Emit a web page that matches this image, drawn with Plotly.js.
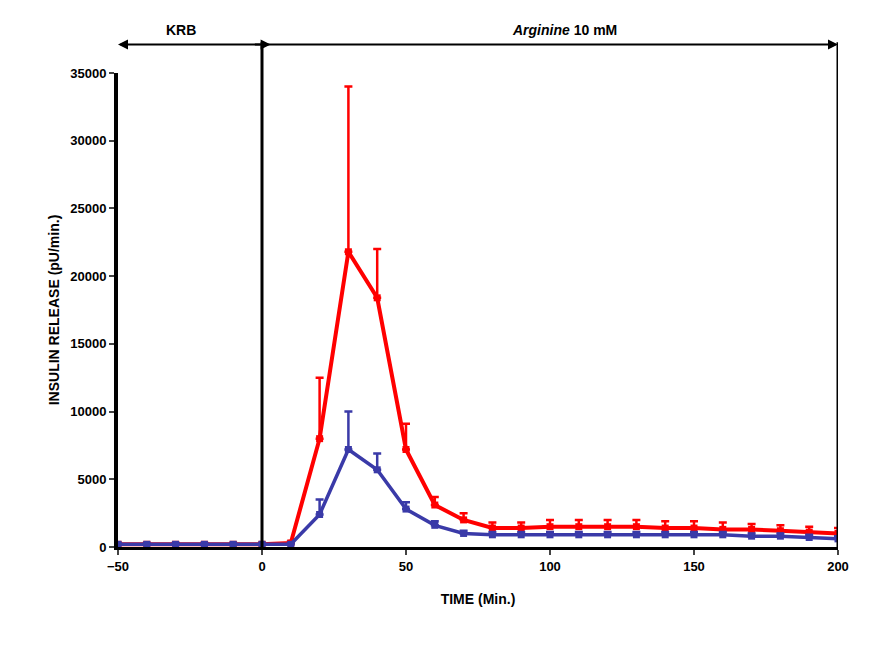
<!DOCTYPE html>
<html><head><meta charset="utf-8">
<script src="https://cdn.plot.ly/plotly-3.0.1.min.js"></script>
<style>body{margin:0;background:#fff}#chart{width:878px;height:646px}</style>
</head><body><div id="chart"></div>
<script>
const time = [-50,-40,-30,-20,-10,0,10,20,30,40,50,60,70,80,90,100,110,120,130,140,150,160,170,180,190,200];
const redVals = [200,200,200,200,200,200,300,8000,21800,18400,7200,3100,2000,1400,1400,1500,1500,1500,1500,1400,1400,1300,1300,1200,1100,1000];
const redErr  = [100,100,100,100,100,100,100,4500,12200,3600,1900,600,500,400,400,500,500,500,500,500,500,500,400,400,400,400];
const blueVals = [200,200,200,200,200,200,200,2400,7200,5700,2800,1600,1000,900,900,900,900,900,900,900,900,900,800,800,700,600];
const blueErr  = [50,50,50,50,50,50,50,1100,2800,1200,500,300,200,200,200,200,200,200,200,200,200,200,200,200,200,200];

const traces = [
  {x: time, y: redVals, type: "scatter", mode: "lines+markers",
   line: {color: "#ff0000", width: 4}, marker: {color: "#ff0000", size: 7, symbol: "square"},
   error_y: {type: "data", array: redErr, arrayminus: redErr.map(() => 0), color: "#ff0000", thickness: 2.5, width: 4}},
  {x: time, y: blueVals, type: "scatter", mode: "lines+markers",
   line: {color: "#3a3aa8", width: 3.5}, marker: {color: "#3a3aa8", size: 7, symbol: "square"},
   error_y: {type: "data", array: blueErr, arrayminus: blueErr.map(() => 0), color: "#3a3aa8", thickness: 2.5, width: 4}}
];

const bold = {family: "Liberation Sans, Arial", size: 13, color: "#000", weight: "bold"};
const layout = {
  width: 878, height: 646, showlegend: false,
  paper_bgcolor: "#fff", plot_bgcolor: "#fff",
  margin: {l: 118, r: 40, t: 73, b: 99},
  font: bold,
  xaxis: {range: [-50, 200], tickvals: [-50,0,50,100,150,200], ticks: "outside", ticklen: 5,
    tickwidth: 2, showgrid: false, zeroline: false, showline: true, linewidth: 3, linecolor: "#000",
    tickfont: bold, title: {text: "TIME (Min.)", font: {...bold, size: 14}, standoff: 22}},
  yaxis: {range: [0, 35000], dtick: 5000, ticks: "outside", ticklen: 5, tickwidth: 2,
    tickformat: "d", exponentformat: "none",
    showgrid: false, zeroline: false, showline: true, linewidth: 4, linecolor: "#000",
    tickfont: bold, title: {text: "INSULIN RELEASE (pU/min.)", font: {...bold, size: 14}, standoff: 8}},
  shapes: [
    {type: "line", xref: "x", yref: "y", x0: 0, x1: 0, y0: 0, y1: 35000, line: {color: "#000", width: 3}},
    {type: "line", xref: "x", yref: "y", x0: 200, x1: 200, y0: 0, y1: 35000, line: {color: "#000", width: 3}},
    {type: "line", xref: "x", yref: "paper", x0: 0, x1: 0, y0: 1, y1: 1.065, line: {color: "#000", width: 3}},
    {type: "line", xref: "x", yref: "paper", x0: 200, x1: 200, y0: 1, y1: 1.065, line: {color: "#000", width: 3}}
  ],
  annotations: [
    {xref: "x", yref: "paper", x: -50, y: 1.06, ax: 0, ay: 1.06, axref: "x", ayref: "paper",
     showarrow: true, arrowhead: 2, arrowsize: 1, arrowwidth: 2, arrowcolor: "#000", text: ""},
    {xref: "x", yref: "paper", x: 3, y: 1.06, ax: -3, ay: 1.06, axref: "x", ayref: "paper",
     showarrow: true, arrowhead: 2, arrowsize: 1, arrowwidth: 2, arrowcolor: "#000", text: ""},
    {xref: "x", yref: "paper", x: 200, y: 1.06, ax: 0, ay: 1.06, axref: "x", ayref: "paper",
     showarrow: true, arrowhead: 2, arrowsize: 1, arrowwidth: 2, arrowcolor: "#000", text: ""},
    {xref: "x", yref: "paper", x: -28, y: 1.07, yanchor: "bottom", showarrow: false, text: "KRB", font: {...bold, size: 14}},
    {xref: "x", yref: "paper", x: 105, y: 1.07, yanchor: "bottom", showarrow: false, text: "<i>Arginine</i> 10 mM", font: {...bold, size: 14}}
  ]
};
Plotly.newPlot("chart", traces, layout, {displayModeBar: false});
</script></body></html>
